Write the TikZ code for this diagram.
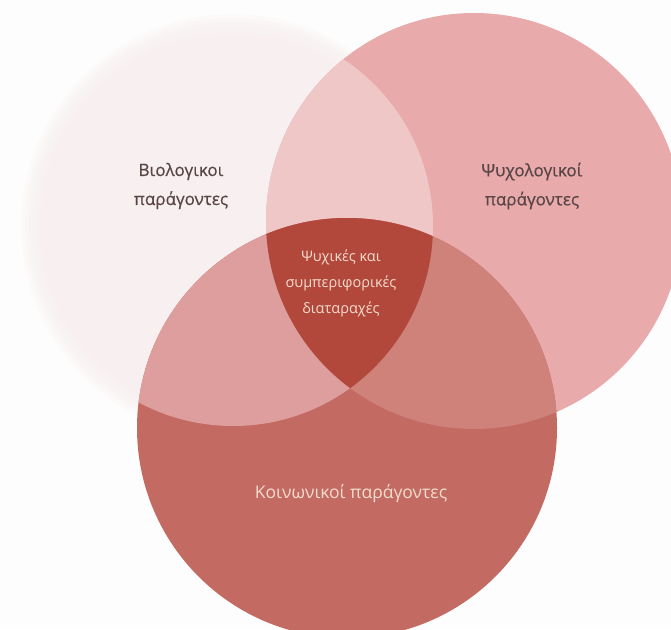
\documentclass[tikz,border=0pt]{standalone}
\usepackage{fontspec}
\setmainfont{Open Sans}
\newfontfamily\heavierfont[FakeBold=0.6]{Open Sans}
\begin{document}
\begin{tikzpicture}[x=1pt,y=-1pt,
  darklabel/.style={font=\heavierfont\fontsize{17}{29}\selectfont, text=labelgray, align=center, inner sep=0pt},
  corelabel/.style={font=\fontsize{14.5}{26}\selectfont, text=labelcream, align=center, inner sep=0pt},
  soclabel/.style={font=\fontsize{17.5}{26}\selectfont, text=labelcream, align=center, inner sep=0pt}]
\definecolor{bgwhite}{HTML}{FEFDFD}
\definecolor{bioC}{HTML}{F8F0F0}
\definecolor{psyC}{HTML}{E9AAAC}
\definecolor{bpC}{HTML}{F0C7C7}
\definecolor{socC}{HTML}{C36A62}
\definecolor{bsC}{HTML}{DE9E9E}
\definecolor{psC}{HTML}{CF827A}
\definecolor{coreC}{HTML}{B2483B}
\definecolor{labelgray}{HTML}{5A4646}
\definecolor{labelcream}{HTML}{F2DCCD}

% canvas
\fill[bgwhite] (0,0) rectangle (671,629);
\useasboundingbox (0,0) rectangle (671,629);

% circle centres and radii
\coordinate (bio) at (233,226);
\coordinate (psy) at (474,221);
\coordinate (soc) at (347,428);
\def\rbio{200}
\def\rpsy{208}
\def\rsoc{210}

% biological factors: pale disc with a soft rim
\foreach \d in {12,8,4,0,-4,-8}
  \fill[bioC, opacity=0.3] (bio) circle (\rbio+\d);
\fill[bioC] (bio) circle (\rbio-10);

% psychological factors
\fill[psyC] (psy) circle (\rpsy);
\begin{scope}
  \clip (bio) circle (\rbio);
  \fill[bpC] (psy) circle (\rpsy);
\end{scope}

% social factors and the overlaps inside it
\fill[socC] (soc) circle (\rsoc);
\begin{scope}
  \clip (soc) circle (\rsoc);
  \fill[bsC] (bio) circle (\rbio);
  \fill[psC] (psy) circle (\rpsy);
  \clip (bio) circle (\rbio);
  \fill[coreC] (psy) circle (\rpsy);
\end{scope}

% labels
\node[darklabel] (tbio) at (181,186) {Βιολογικοι\\παράγοντες};
\node[darklabel] (tpsy) at (532,186) {Ψυχολογικοί\\παράγοντες};
\node[corelabel] (tcore) at (341,283) {Ψυχικές και\\συμπεριφορικές\\διαταραχές};
\node[soclabel] (tsoc) at (351,494) {Κοινωνικοί παράγοντες};
\end{tikzpicture}
\end{document}
